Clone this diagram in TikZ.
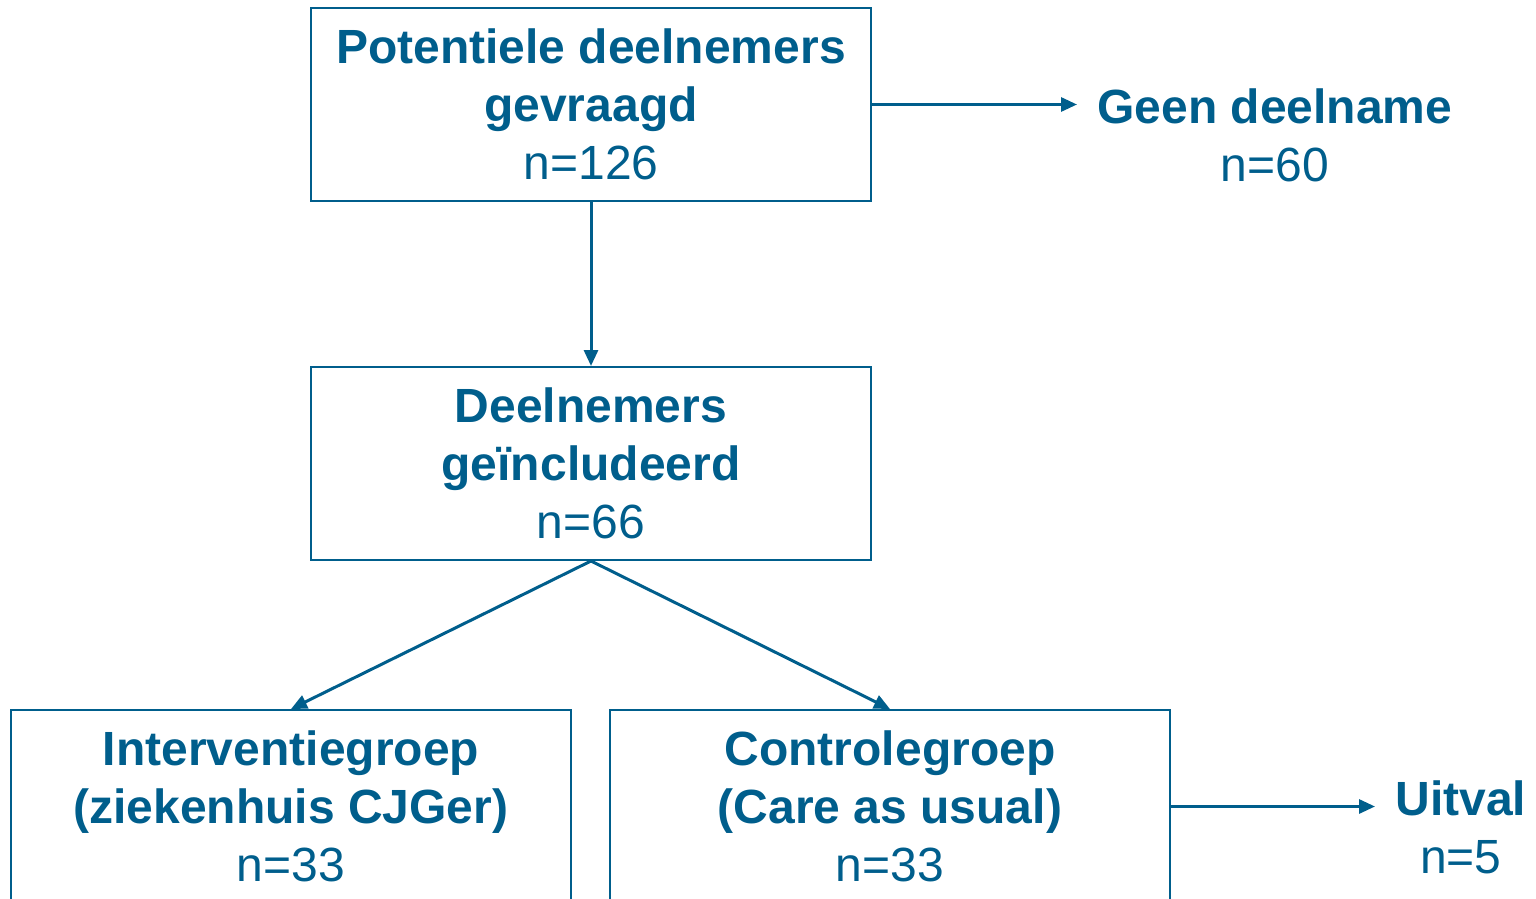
\documentclass[tikz,border=0pt]{standalone}
\usepackage{fontspec}
\setmainfont{Liberation Sans}
\usetikzlibrary{arrows.meta}
\definecolor{flowblue}{RGB}{0,94,140}

\begin{document}
\begin{tikzpicture}[x=0.5pt,y=0.5pt,yscale=-1,xscale=1,
  box/.style={draw=flowblue,line width=1pt,minimum width=280pt,minimum height=96.5pt,inner sep=0pt,align=center,text=flowblue,font=\fontsize{24}{29}\selectfont},
  lbl/.style={inner sep=10pt,align=center,text=flowblue,font=\fontsize{24}{29}\selectfont},
  flow/.style={draw=flowblue,line width=1.5pt,-{Triangle[length=8pt,width=7pt]}}]
\useasboundingbox (0,0) rectangle (1536,899);
\clip (0,0) rectangle (1536,899);

% Boxes
\node [box] (asked) at (591,104.5) {\textbf{Potentiele deelnemers}\\\textbf{gevraagd}\\n=126};
\node [box] (incl) at (591,463.5) {\textbf{Deelnemers}\\\textbf{geïncludeerd}\\n=66};
\node [box] (interv) at (291,806.5) {\textbf{Interventiegroep}\\\textbf{(ziekenhuis CJGer)}\\n=33};
\node [box] (contr) at (890,806.5) {\textbf{Controlegroep}\\\textbf{(Care as usual)}\\n=33};

% Side labels
\node [lbl,anchor=west] (nopart) at (1077,135) {\textbf{Geen deelname}\\n=60};
\node [lbl,anchor=west] (drop) at (1375,827) {\textbf{Uitval}\\n=5};

% Arrows
\draw [flow] (asked.east) -- (nopart.west |- asked.east);
\draw [flow] (asked.south) -- (incl.north);
\draw [flow] (incl.south) -- (interv.north);
\draw [flow] (incl.south) -- (contr.north);
\draw [flow] (contr.east) -- (drop.west |- contr.east);

\end{tikzpicture}
\end{document}
